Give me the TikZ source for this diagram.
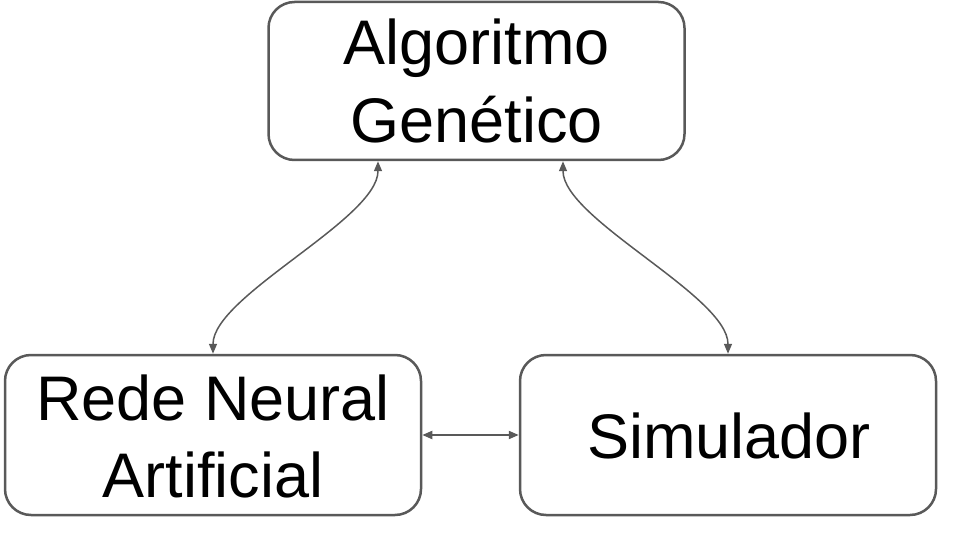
\documentclass[tikz,border=0pt]{standalone}
\usepackage{fontspec}
\setmainfont{Liberation Sans}
\usetikzlibrary{arrows.meta}
\definecolor{edge}{HTML}{595959}
\tikzset{
  box/.style={draw=edge, line width=2.5pt, rounded corners=26pt, inner sep=0pt},
  lbl/.style={anchor=base, inner sep=0pt, font=\fontsize{63}{77}\selectfont},
  conn/.style={draw=edge, line width=1.5pt, {Triangle[length=10pt,width=8pt]}-{Triangle[length=10pt,width=8pt]}},
}
\begin{document}
\begin{tikzpicture}[x=1pt,y=-1pt]
\useasboundingbox (0,0) rectangle (960,540);
\node[box, minimum width=416pt, minimum height=158pt] (ga) at (476.5,81) {};
\node[box, minimum width=416pt, minimum height=160pt] (rn) at (213,435) {};
\node[box, minimum width=416pt, minimum height=160pt] (sim) at (728,435) {};
\node[lbl] (t1) at (476.5,65) {Algoritmo};
\node[lbl] (t2) at (476.5,143) {Genético};
\node[lbl] (t3) at (213,420) {Rede Neural};
\node[lbl] (t4) at (213,497) {Artificial};
\node[lbl] (t5) at (729,458) {Simulador};
\coordinate (gaL) at ([xshift=-98.5pt]ga.south);
\coordinate (gaR) at ([xshift=86.5pt]ga.south);
\draw[conn] (gaL) .. controls ([yshift=-58pt]gaL) and ([yshift=58pt]rn.north) .. (rn.north);
\draw[conn] (gaR) .. controls ([yshift=-58pt]gaR) and ([yshift=58pt]sim.north) .. (sim.north);
\draw[conn, line width=2pt] (rn.east) -- (sim.west);
\end{tikzpicture}
\end{document}
